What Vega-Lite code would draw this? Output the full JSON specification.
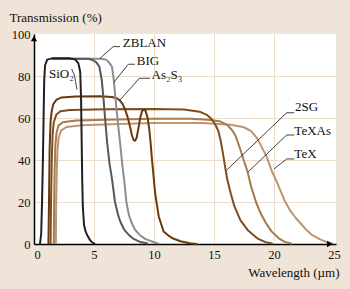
{
  "$schema": "https://vega.github.io/schema/vega-lite/v6.json",
  "width": 302,
  "height": 210,
  "autosize": "none",
  "padding": {"left": 34, "top": 34, "right": 14, "bottom": 45},
  "background": "#EFE4D7",
  "config": {
    "view": {"stroke": null, "fill": "#FFFFFF"},
    "font": "Liberation Serif",
    "axis": {
      "domainColor": "#000000",
      "domainWidth": 1.5,
      "ticks": false,
      "labelFont": "Liberation Serif",
      "labelFontSize": 12.5,
      "labelColor": "#111111",
      "gridColor": "#EBDCCB",
      "gridWidth": 1,
      "titleFont": "Liberation Serif",
      "titleFontSize": 13,
      "titleFontWeight": "normal",
      "titleColor": "#111111"
    }
  },
  "datasets": {
    "curves": [
      {"s":"TeX","x":1.82,"y":0},{"s":"TeX","x":1.85,"y":20},{"s":"TeX","x":1.9,"y":35},{"s":"TeX","x":1.96,"y":45},{"s":"TeX","x":2.05,"y":50.5},{"s":"TeX","x":2.25,"y":54},{"s":"TeX","x":2.7,"y":55.7},{"s":"TeX","x":4,"y":56.5},{"s":"TeX","x":7,"y":57.2},{"s":"TeX","x":10,"y":57.6},{"s":"TeX","x":14,"y":57.6},{"s":"TeX","x":16.4,"y":56.8},{"s":"TeX","x":17.5,"y":55.6},{"s":"TeX","x":18.1,"y":53.8},{"s":"TeX","x":18.6,"y":50.3},{"s":"TeX","x":18.95,"y":46.5},{"s":"TeX","x":19.4,"y":41.5},{"s":"TeX","x":19.8,"y":35},{"s":"TeX","x":20.2,"y":30},{"s":"TeX","x":20.5,"y":26},{"s":"TeX","x":20.9,"y":20.5},{"s":"TeX","x":21.4,"y":15.5},{"s":"TeX","x":21.8,"y":12.5},{"s":"TeX","x":22.2,"y":10},{"s":"TeX","x":22.6,"y":7.3},{"s":"TeX","x":23.2,"y":4.2},{"s":"TeX","x":23.8,"y":2.3},{"s":"TeX","x":24.4,"y":0.9},{"s":"TeX","x":24.9,"y":0.3},
      {"s":"TeXAs","x":1.65,"y":0},{"s":"TeXAs","x":1.68,"y":20},{"s":"TeXAs","x":1.72,"y":35},{"s":"TeXAs","x":1.78,"y":47},{"s":"TeXAs","x":1.88,"y":53},{"s":"TeXAs","x":2.05,"y":56.5},{"s":"TeXAs","x":2.4,"y":58},{"s":"TeXAs","x":3.5,"y":58.8},{"s":"TeXAs","x":6,"y":59.2},{"s":"TeXAs","x":10,"y":59.6},{"s":"TeXAs","x":13,"y":59.6},{"s":"TeXAs","x":14.5,"y":59.2},{"s":"TeXAs","x":15.5,"y":58.4},{"s":"TeXAs","x":16.1,"y":56.7},{"s":"TeXAs","x":16.5,"y":54.3},{"s":"TeXAs","x":16.8,"y":51.5},{"s":"TeXAs","x":17.2,"y":45},{"s":"TeXAs","x":17.5,"y":39.5},{"s":"TeXAs","x":17.8,"y":34.4},{"s":"TeXAs","x":18.1,"y":27.3},{"s":"TeXAs","x":18.5,"y":20},{"s":"TeXAs","x":18.9,"y":14.5},{"s":"TeXAs","x":19.3,"y":10.2},{"s":"TeXAs","x":19.8,"y":6},{"s":"TeXAs","x":20.4,"y":2.7},{"s":"TeXAs","x":20.9,"y":1},{"s":"TeXAs","x":21.5,"y":0.1},
      {"s":"2SG","x":1.38,"y":0},{"s":"2SG","x":1.42,"y":20},{"s":"2SG","x":1.48,"y":40},{"s":"2SG","x":1.55,"y":52},{"s":"2SG","x":1.65,"y":58},{"s":"2SG","x":1.85,"y":61.5},{"s":"2SG","x":2.2,"y":63.2},{"s":"2SG","x":3,"y":63.8},{"s":"2SG","x":6,"y":64.2},{"s":"2SG","x":10,"y":64.3},{"s":"2SG","x":12.5,"y":64},{"s":"2SG","x":13.8,"y":63},{"s":"2SG","x":14.4,"y":61.5},{"s":"2SG","x":14.8,"y":59.5},{"s":"2SG","x":15.1,"y":57},{"s":"2SG","x":15.35,"y":54},{"s":"2SG","x":15.55,"y":49.5},{"s":"2SG","x":15.75,"y":43},{"s":"2SG","x":15.95,"y":36},{"s":"2SG","x":16.1,"y":31},{"s":"2SG","x":16.4,"y":24},{"s":"2SG","x":16.7,"y":18},{"s":"2SG","x":17.2,"y":11.4},{"s":"2SG","x":17.8,"y":6.7},{"s":"2SG","x":18.6,"y":2.7},{"s":"2SG","x":19.3,"y":0.9},{"s":"2SG","x":19.9,"y":0.1},
      {"s":"As2S3","x":1.2,"y":0},{"s":"As2S3","x":1.25,"y":20},{"s":"As2S3","x":1.3,"y":45},{"s":"As2S3","x":1.38,"y":58},{"s":"As2S3","x":1.47,"y":63},{"s":"As2S3","x":1.6,"y":66.5},{"s":"As2S3","x":1.85,"y":68.6},{"s":"As2S3","x":2.3,"y":69.8},{"s":"As2S3","x":3.5,"y":70.2},{"s":"As2S3","x":5.5,"y":70.4},{"s":"As2S3","x":6.5,"y":70},{"s":"As2S3","x":6.9,"y":69.4},{"s":"As2S3","x":7.15,"y":68.4},{"s":"As2S3","x":7.4,"y":66.5},{"s":"As2S3","x":7.6,"y":64},{"s":"As2S3","x":7.8,"y":60.5},{"s":"As2S3","x":8.0,"y":56},{"s":"As2S3","x":8.15,"y":52},{"s":"As2S3","x":8.3,"y":49.5},{"s":"As2S3","x":8.42,"y":49.2},{"s":"As2S3","x":8.55,"y":50.5},{"s":"As2S3","x":8.7,"y":55},{"s":"As2S3","x":8.85,"y":60},{"s":"As2S3","x":9.0,"y":63.2},{"s":"As2S3","x":9.15,"y":64.1},{"s":"As2S3","x":9.3,"y":63.4},{"s":"As2S3","x":9.45,"y":60.5},{"s":"As2S3","x":9.6,"y":55},{"s":"As2S3","x":9.72,"y":48},{"s":"As2S3","x":9.82,"y":41},{"s":"As2S3","x":9.92,"y":35},{"s":"As2S3","x":10.1,"y":24},{"s":"As2S3","x":10.4,"y":13},{"s":"As2S3","x":10.8,"y":6},{"s":"As2S3","x":11.2,"y":4},{"s":"As2S3","x":11.6,"y":2.6},{"s":"As2S3","x":12.2,"y":1.3},{"s":"As2S3","x":13,"y":0.4},{"s":"As2S3","x":13.6,"y":0},
      {"s":"BIG","x":1.5,"y":88.2},{"s":"BIG","x":5.6,"y":88.2},{"s":"BIG","x":6.0,"y":87.8},{"s":"BIG","x":6.25,"y":86.5},{"s":"BIG","x":6.5,"y":84.4},{"s":"BIG","x":6.65,"y":78},{"s":"BIG","x":6.8,"y":68.6},{"s":"BIG","x":6.95,"y":60},{"s":"BIG","x":7.1,"y":52},{"s":"BIG","x":7.2,"y":47},{"s":"BIG","x":7.35,"y":38},{"s":"BIG","x":7.5,"y":31.3},{"s":"BIG","x":7.7,"y":20},{"s":"BIG","x":7.9,"y":14},{"s":"BIG","x":8.1,"y":10.6},{"s":"BIG","x":8.4,"y":7},{"s":"BIG","x":8.8,"y":4.3},{"s":"BIG","x":9.3,"y":2.3},{"s":"BIG","x":9.9,"y":1.1},{"s":"BIG","x":10.4,"y":0.2},
      {"s":"ZBLAN","x":1.5,"y":88.2},{"s":"ZBLAN","x":4.5,"y":88.2},{"s":"ZBLAN","x":4.9,"y":87.6},{"s":"ZBLAN","x":5.2,"y":86.5},{"s":"ZBLAN","x":5.45,"y":84.4},{"s":"ZBLAN","x":5.65,"y":78},{"s":"ZBLAN","x":5.8,"y":68.6},{"s":"ZBLAN","x":5.95,"y":58},{"s":"ZBLAN","x":6.1,"y":48},{"s":"ZBLAN","x":6.3,"y":38},{"s":"ZBLAN","x":6.5,"y":31},{"s":"ZBLAN","x":6.75,"y":20},{"s":"ZBLAN","x":7.0,"y":14},{"s":"ZBLAN","x":7.2,"y":10.6},{"s":"ZBLAN","x":7.5,"y":7},{"s":"ZBLAN","x":7.9,"y":4.3},{"s":"ZBLAN","x":8.3,"y":2.4},{"s":"ZBLAN","x":8.8,"y":1.1},{"s":"ZBLAN","x":9.5,"y":0.2},
      {"s":"SiO2","x":0.5,"y":0},{"s":"SiO2","x":0.6,"y":5},{"s":"SiO2","x":0.67,"y":20},{"s":"SiO2","x":0.74,"y":40},{"s":"SiO2","x":0.8,"y":60},{"s":"SiO2","x":0.85,"y":78},{"s":"SiO2","x":0.92,"y":85},{"s":"SiO2","x":1.1,"y":87.8},{"s":"SiO2","x":1.5,"y":88.4},{"s":"SiO2","x":3.0,"y":88.4},{"s":"SiO2","x":3.45,"y":87.8},{"s":"SiO2","x":3.7,"y":86},{"s":"SiO2","x":3.85,"y":82},{"s":"SiO2","x":3.92,"y":70},{"s":"SiO2","x":3.97,"y":50},{"s":"SiO2","x":4.02,"y":30},{"s":"SiO2","x":4.07,"y":18},{"s":"SiO2","x":4.17,"y":9},{"s":"SiO2","x":4.3,"y":6},{"s":"SiO2","x":4.45,"y":4},{"s":"SiO2","x":4.65,"y":2},{"s":"SiO2","x":4.85,"y":0.8},{"s":"SiO2","x":5.1,"y":0}
    ],
    "leaders": [
      {"x":6.6,"y":94,"x2":7.17,"y2":94},{"x":6.6,"y":94,"x2":5.5,"y2":88.4},
      {"x":7.86,"y":85.6,"x2":8.42,"y2":85.6},{"x":7.86,"y":85.6,"x2":6.67,"y2":77.1},
      {"x":8.78,"y":78.9,"x2":9.67,"y2":78.9},{"x":8.78,"y":78.9,"x2":7.17,"y2":68.6},
      {"x":3.14,"y":83.3,"x2":3.36,"y2":80.5},{"x":3.36,"y":80.5,"x2":3.46,"y2":77.5},{"x":3.46,"y":77.5,"x2":3.58,"y2":73.5},
      {"x":21.06,"y":62.5,"x2":21.69,"y2":62.5},{"x":21.06,"y":62.5,"x2":16.06,"y2":35.2},
      {"x":21.06,"y":51.9,"x2":21.69,"y2":51.9},{"x":21.06,"y":51.9,"x2":17.86,"y2":34.4},
      {"x":21.06,"y":40.5,"x2":21.69,"y2":40.5},{"x":21.06,"y":40.5,"x2":20.0,"y2":35.7}
    ],
    "labels": [
      {"t":"ZBLAN","x":7.4,"y":95.6},
      {"t":"BIG","x":8.56,"y":87.2},
      {"t":"As₂S₃","x":9.8,"y":80.5},
      {"t":"SiO₂","x":1.25,"y":81},
      {"t":"2SG","x":21.75,"y":65.1},
      {"t":"TeXAs","x":21.7,"y":54},
      {"t":"TeX","x":21.7,"y":42.7}
    ],
    "arrows": [
      {"x":0,"y":97.8,"shape":"triangle-up"},
      {"x":24.65,"y":0,"shape":"triangle-right"}
    ]
  },
  "layer": [
    {
      "data": {"name": "curves"},
      "mark": {"type": "line", "strokeWidth": 2, "strokeJoin": "round"},
      "encoding": {
        "x": {
          "field": "x", "type": "quantitative",
          "scale": {"domain": [0, 25.17], "nice": false, "zero": false},
          "axis": {
            "values": [0, 5, 10, 15, 20, 25],
            "format": "d",
            "labelPadding": 4,
            "gridOpacity": {"condition": {"test": "datum.value == 25 || datum.value == 0", "value": 0}, "value": 1},
            "title": "Wavelength (µm)",
            "titleAnchor": null,
            "titleAlign": "right",
            "titleBaseline": "middle",
            "titleX": 305,
            "titleY": 28
          }
        },
        "y": {
          "field": "y", "type": "quantitative",
          "scale": {"domain": [0, 100], "nice": false},
          "axis": {
            "values": [0, 20, 40, 60, 80, 100],
            "labelPadding": 4,
            "gridOpacity": {"condition": {"test": "datum.value == 100 || datum.value == 0", "value": 0}, "value": 1},
            "title": "Transmission (%)",
            "titleAngle": 0,
            "titleAlign": "left",
            "titleBaseline": "middle",
            "titleAnchor": null,
            "titleX": -25,
            "titleY": -17
          }
        },
        "color": {
          "field": "s", "type": "nominal", "legend": null,
          "scale": {
            "domain": ["TeX", "TeXAs", "2SG", "As2S3", "BIG", "ZBLAN", "SiO2"],
            "range": ["#BC9571", "#A57A4E", "#7D4D20", "#6B3A0C", "#8D8D8F", "#58585A", "#231F20"]
          }
        },
        "detail": {"field": "s"}
      }
    },
    {
      "data": {"name": "leaders"},
      "mark": {"type": "rule", "color": "#000000", "strokeWidth": 0.75},
      "encoding": {
        "x": {"field": "x", "type": "quantitative"},
        "y": {"field": "y", "type": "quantitative"},
        "x2": {"field": "x2"},
        "y2": {"field": "y2"}
      }
    },
    {
      "data": {"name": "labels"},
      "mark": {"type": "text", "align": "left", "baseline": "middle", "font": "Liberation Serif", "fontSize": 13, "color": "#111111"},
      "encoding": {
        "x": {"field": "x", "type": "quantitative"},
        "y": {"field": "y", "type": "quantitative"},
        "text": {"field": "t"}
      }
    },
    {
      "data": {"name": "arrows"},
      "mark": {"type": "point", "filled": true, "color": "#000000", "size": 40, "opacity": 1},
      "encoding": {
        "x": {"field": "x", "type": "quantitative"},
        "y": {"field": "y", "type": "quantitative"},
        "shape": {"field": "shape", "type": "nominal", "scale": null, "legend": null}
      }
    }
  ]
}
